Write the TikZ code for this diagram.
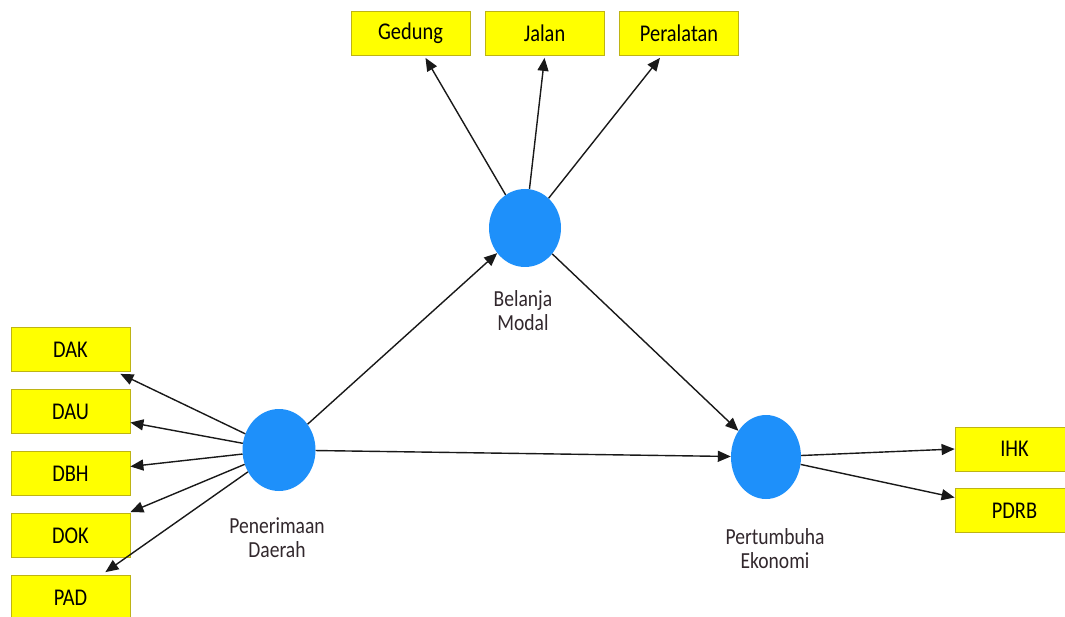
\documentclass[tikz,border=0pt]{standalone}
\usepackage{fontspec}
\setmainfont{Carlito}[FakeStretch=0.85]
\usetikzlibrary{arrows.meta,calc,shapes.geometric}
\definecolor{boxfill}{RGB}{255,255,0}
\definecolor{boxline}{RGB}{190,180,20}
\definecolor{circfill}{RGB}{30,144,250}
\definecolor{lbl}{RGB}{50,40,45}
\definecolor{edgecol}{RGB}{25,25,25}
\tikzset{
  ind/.style={draw=boxline, line width=0.8pt, fill=boxfill, minimum width=119pt, minimum height=44pt, inner sep=0pt, font=\fontsize{24}{26}\selectfont, text=black},
  lat/.style={ellipse, fill=circfill, draw=none, inner sep=0pt},
  latlbl/.style={align=center, font=\fontsize{23}{24}\selectfont, text=lbl},
  arr/.style={draw=edgecol, line width=1.4pt, -{Triangle[length=13pt,width=11pt]}}
}
\begin{document}
\begin{tikzpicture}[x=1pt,y=-1pt]
\useasboundingbox (0,0) rectangle (1065,617);
\clip (0,0) rectangle (1065,617);
\fill[white] (0,0) rectangle (1065,617);
% indicator boxes
\node[ind] (Gedung) at (410.5,33.5) {Gedung};
\node[ind] (Jalan) at (544.5,33.5) {Jalan};
\node[ind] (Peralatan) at (679,33.5) {Peralatan};
\node[ind] (DAK) at (70.5,349.5) {DAK};
\node[ind] (DAU) at (70.5,411.5) {DAU};
\node[ind] (DBH) at (70.5,473.5) {DBH};
\node[ind] (DOK) at (70.5,535.5) {DOK};
\node[ind] (PAD) at (70.5,597.5) {PAD};
\node[ind] (IHK) at (1014.5,449) {IHK};
\node[ind] (PDRB) at (1014.5,510.5) {PDRB};
% latent variables
\node[lat, minimum width=72pt, minimum height=78pt] (B) at (525,228) {};
\node[lat, minimum width=73pt, minimum height=82pt] (P) at (279,450) {};
\node[lat, minimum width=70pt, minimum height=84pt] (E) at (766,457) {};
\node[latlbl] (Blbl) at (523,311) {Belanja\\Modal};
\node[latlbl] (Plbl) at (277,538) {Penerimaan\\Daerah};
\node[latlbl] (Elbl) at (775,549) {Pertumbuha\\Ekonomi};
% connectors
\draw[arr] (B) -- ($(Gedung.south)+(15,2)$);
\draw[arr] (B) -- ($(Jalan.south)+(0,2)$);
\draw[arr] (B) -- ($(Peralatan.south)+(-19,2)$);
\draw[arr] (P) -- (B);
\draw[arr] (P) -- (E);
\draw[arr] (B) -- (E);
\draw[arr] (P) -- ($(DAK.south east)+(-10,2)$);
\draw[arr] (P) -- ($(DAU.east)+(0,11)$);
\draw[arr] (P) -- ($(DBH.east)+(0,-7)$);
\draw[arr] (P) -- ($(DOK.north east)+(0,-1)$);
\draw[arr] (P) -- ($(PAD.north east)+(-25,-3)$);
\draw[arr] (E) -- (IHK.west);
\draw[arr] (E) -- ($(PDRB.west)+(0,-13)$);
\end{tikzpicture}
\end{document}
